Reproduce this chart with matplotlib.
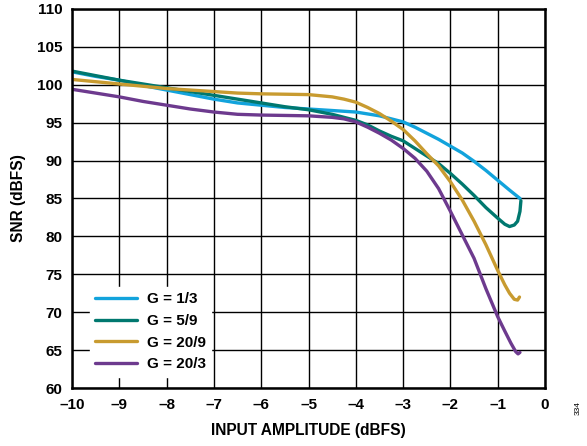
import matplotlib
matplotlib.use("Agg")
import matplotlib.pyplot as plt

plt.rcParams['font.family'] = ['Liberation Sans', 'DejaVu Sans']
plt.rcParams['font.weight'] = 'bold'

# SNR vs input amplitude
x_g1 = [-10, -9.5, -9, -8.5, -8, -7.5, -7, -6.5, -6, -5.5, -5, -4.5, -4, -3.5, -3.25,
        -3, -2.75, -2.5, -2.25, -2, -1.75, -1.5, -1.25, -1, -0.75, -0.53]
y_g1 = [101.7, 101.1, 100.6, 99.9, 99.3, 98.7, 98.1, 97.6, 97.3, 97.0, 96.8, 96.6, 96.4, 95.9, 95.5,
        95.1, 94.4, 93.6, 92.8, 91.9, 91.0, 89.9, 88.7, 87.4, 86.1, 85.0]

x_g2 = [-10, -9.5, -9, -8.5, -8, -7.5, -7, -6.5, -6, -5.5, -5, -4.5, -4, -3.75, -3.5, -3.25,
        -3, -2.75, -2.5, -2.25, -2, -1.75, -1.5, -1.25, -1, -0.85, -0.75, -0.65, -0.58, -0.53, -0.51]
y_g2 = [101.8, 101.2, 100.6, 100.1, 99.6, 99.1, 98.6, 98.1, 97.6, 97.1, 96.7, 96.1, 95.3, 94.7, 93.9, 93.2,
        92.6, 91.6, 90.6, 89.6, 88.3, 86.9, 85.4, 83.8, 82.4, 81.6, 81.3, 81.5, 82.0, 83.3, 84.7]

x_g3 = [-10, -9.5, -9, -8.5, -8, -7.5, -7, -6.5, -6, -5.5, -5, -4.5, -4.25, -4, -3.75, -3.5, -3.25,
        -3, -2.75, -2.5, -2.25, -2, -1.75, -1.5, -1.25, -1, -0.85, -0.75, -0.65, -0.58, -0.54]
y_g3 = [100.7, 100.4, 100.1, 99.8, 99.5, 99.3, 99.1, 98.9, 98.8, 98.75, 98.7, 98.4, 98.1, 97.7, 97.0, 96.2, 95.2,
        94.1, 92.6, 90.9, 89.3, 87.2, 84.8, 82.0, 78.9, 75.5, 73.6, 72.5, 71.7, 71.6, 72.0]

x_g4 = [-10, -9.5, -9, -8.5, -8, -7.5, -7, -6.5, -6, -5.5, -5, -4.5, -4.25, -4, -3.75, -3.5, -3.25,
        -3, -2.75, -2.5, -2.25, -2, -1.75, -1.5, -1.25, -1, -0.85, -0.72, -0.62, -0.57, -0.53]
y_g4 = [99.4, 98.9, 98.4, 97.8, 97.3, 96.8, 96.4, 96.1, 96.0, 95.95, 95.9, 95.7, 95.5, 95.1, 94.4, 93.6, 92.7,
        91.6, 90.3, 88.6, 86.3, 83.3, 80.2, 77.1, 73.1, 69.4, 67.5, 65.9, 64.8, 64.5, 64.7]

labels = ['G = 1/3', 'G = 5/9', 'G = 20/9', 'G = 20/3']
colors = ['#12a3dc', '#00786f', '#c89b30', '#6d3a8e']

fig = plt.figure(figsize=(5.87, 4.46), dpi=100)
ax = fig.add_axes([0.1227, 0.130, 0.8058, 0.850])

series = [(x_g1, y_g1), (x_g2, y_g2), (x_g3, y_g3), (x_g4, y_g4)]
for (xs, ys), lab, c in zip(series, labels, colors):
    ax.plot(xs, ys, color=c, lw=2.4, label=lab, solid_capstyle='round',
            solid_joinstyle='round')

ax.set_xlim(-10, 0)
ax.set_ylim(60, 110)
ax.set_xticks(range(-10, 1))
ax.set_xticklabels(['\u2013%d' % -v if v < 0 else '0' for v in range(-10, 1)])
ax.set_yticks(range(60, 111, 5))
ax.grid(True, color='black', lw=1.0)
ax.set_axisbelow(True)
for s in ax.spines.values():
    s.set_linewidth(1.8)
ax.tick_params(length=0, labelsize=11, pad=7)

ax.set_xlabel('INPUT AMPLITUDE (dBFS)', fontsize=11.2, fontweight='bold', labelpad=8)
ax.set_ylabel('SNR (dBFS)', fontsize=11.2, fontweight='bold', labelpad=8)

leg = ax.legend(loc='lower left', bbox_to_anchor=(0.038, 0.03), frameon=True,
                fontsize=11, handlelength=2.7, handletextpad=0.65, labelspacing=0.5,
                borderpad=0.35, borderaxespad=0)
leg.get_frame().set_edgecolor('white')
leg.get_frame().set_facecolor('white')
leg.get_frame().set_alpha(1)
leg.get_frame().set_boxstyle('square', pad=0.0)
for t in leg.get_texts():
    t.set_fontweight('bold')

fig.text(0.985, 0.085, '334', rotation=90, fontsize=6, fontweight='normal',
         ha='center', va='center')

fig.savefig('out.png', dpi=100)
